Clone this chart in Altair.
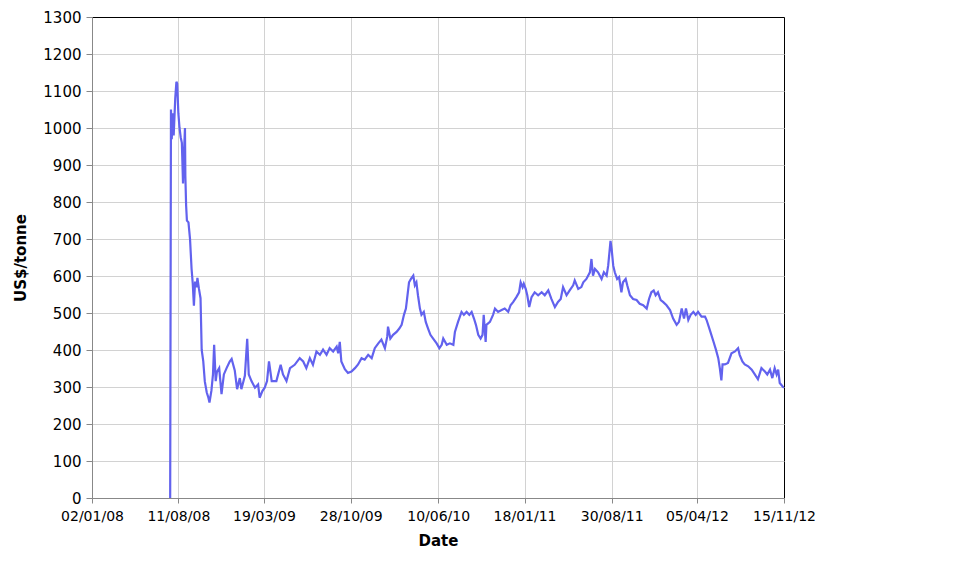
import altair as alt
import pandas as pd

dates = [
    "2008-07-21", "2008-07-23", "2008-07-25", "2008-07-28", "2008-07-30", "2008-08-03", "2008-08-06",
    "2008-08-08", "2008-08-11", "2008-08-14", "2008-08-17", "2008-08-20", "2008-08-23", "2008-08-25",
    "2008-08-28", "2008-08-29", "2008-08-31", "2008-09-02", "2008-09-06", "2008-09-10", "2008-09-14",
    "2008-09-17", "2008-09-20", "2008-09-23", "2008-09-27", "2008-09-29", "2008-10-03", "2008-10-07",
    "2008-10-10", "2008-10-14", "2008-10-18", "2008-10-23", "2008-10-27", "2008-10-30", "2008-11-04",
    "2008-11-08", "2008-11-11", "2008-11-15", "2008-11-18", "2008-11-24", "2008-11-30", "2008-12-06",
    "2008-12-13", "2008-12-21", "2008-12-26", "2009-01-03", "2009-01-09", "2009-01-16", "2009-01-20",
    "2009-01-29", "2009-02-04", "2009-02-08", "2009-02-15", "2009-02-24", "2009-03-04", "2009-03-08",
    "2009-03-15", "2009-03-21", "2009-03-27", "2009-04-01", "2009-04-08", "2009-04-20", "2009-05-01",
    "2009-05-07", "2009-05-16", "2009-05-25", "2009-06-06", "2009-06-19", "2009-06-28", "2009-07-06",
    "2009-07-15", "2009-07-23", "2009-08-01", "2009-08-10", "2009-08-18", "2009-08-27", "2009-09-04",
    "2009-09-13", "2009-09-22", "2009-09-26", "2009-09-30", "2009-10-04", "2009-10-13", "2009-10-21",
    "2009-10-30", "2009-11-08", "2009-11-16", "2009-11-25", "2009-12-03", "2009-12-12", "2009-12-21",
    "2009-12-29", "2010-01-07", "2010-01-15", "2010-01-24", "2010-01-30", "2010-02-01", "2010-02-07",
    "2010-02-14", "2010-02-23", "2010-03-02", "2010-03-08", "2010-03-14", "2010-03-19", "2010-03-22",
    "2010-03-27", "2010-04-01", "2010-04-07", "2010-04-11", "2010-04-15", "2010-04-19", "2010-04-24",
    "2010-04-28", "2010-05-04", "2010-05-09", "2010-05-15", "2010-05-21", "2010-05-28", "2010-06-06",
    "2010-06-13", "2010-06-19", "2010-06-23", "2010-07-02", "2010-07-10", "2010-07-19", "2010-07-23",
    "2010-07-31", "2010-08-09", "2010-08-15", "2010-08-22", "2010-08-29", "2010-09-04", "2010-09-10",
    "2010-09-15", "2010-09-21", "2010-09-27", "2010-10-02", "2010-10-05", "2010-10-10", "2010-10-12",
    "2010-10-21", "2010-10-29", "2010-11-03", "2010-11-11", "2010-11-20", "2010-11-28", "2010-12-07",
    "2010-12-13", "2010-12-20", "2010-12-28", "2011-01-04", "2011-01-08", "2011-01-13", "2011-01-16",
    "2011-01-21", "2011-01-25", "2011-01-30", "2011-02-05", "2011-02-13", "2011-02-22", "2011-03-03",
    "2011-03-11", "2011-03-20", "2011-03-28", "2011-04-06", "2011-04-14", "2011-04-21", "2011-04-27",
    "2011-05-06", "2011-05-14", "2011-05-23", "2011-05-27", "2011-06-05", "2011-06-13", "2011-06-18",
    "2011-06-26", "2011-07-05", "2011-07-09", "2011-07-13", "2011-07-18", "2011-07-26", "2011-08-04",
    "2011-08-10", "2011-08-17", "2011-08-21", "2011-08-27", "2011-08-30", "2011-09-03", "2011-09-07",
    "2011-09-13", "2011-09-18", "2011-09-24", "2011-09-28", "2011-10-05", "2011-10-09", "2011-10-16",
    "2011-10-24", "2011-11-02", "2011-11-10", "2011-11-19", "2011-11-28", "2011-12-04", "2011-12-10",
    "2011-12-16", "2011-12-21", "2011-12-27", "2012-01-03", "2012-01-09", "2012-01-18", "2012-01-27",
    "2012-02-04", "2012-02-13", "2012-02-19", "2012-02-26", "2012-03-03", "2012-03-08", "2012-03-14",
    "2012-03-20", "2012-03-27", "2012-04-02", "2012-04-08", "2012-04-17", "2012-04-26", "2012-04-30",
    "2012-05-08", "2012-05-17", "2012-05-24", "2012-05-30", "2012-06-03", "2012-06-07", "2012-06-10",
    "2012-06-16", "2012-06-24", "2012-07-03", "2012-07-12", "2012-07-20", "2012-07-24", "2012-07-31",
    "2012-08-06", "2012-08-15", "2012-08-24", "2012-09-01", "2012-09-09", "2012-09-18", "2012-09-27",
    "2012-10-03", "2012-10-10", "2012-10-16", "2012-10-22", "2012-10-27", "2012-10-31", "2012-11-04",
    "2012-11-11", "2012-11-15",
]

prices = [
    0, 1050, 970, 1040, 980, 1080, 1125,
    1120, 1040, 1000, 975, 960, 850, 920,
    1000, 870, 790, 750, 745, 700, 619,
    580, 520, 585, 570, 595, 565, 540,
    400, 370, 315, 285, 272, 258, 290,
    334, 414, 316, 340, 351, 281, 334,
    351, 369, 376, 345, 294, 324, 294,
    330, 430, 334, 316, 298, 307, 271,
    289, 298, 316, 369, 316, 316, 360,
    334, 316, 351, 360, 378, 369, 351,
    378, 360, 396, 387, 401, 387, 405,
    396, 409, 391, 422, 369, 348, 338,
    342, 351, 361, 378, 374, 387, 378,
    405, 418, 428, 405, 436, 463, 431,
    441, 449, 458, 468, 495, 512, 538,
    583, 592, 601, 575, 583, 548, 512,
    495, 503, 476, 458, 441, 431, 418,
    405, 414, 431, 414, 418, 414, 449,
    476, 503, 495, 503, 495, 503, 485,
    468, 441, 431, 441, 495, 422, 468,
    476, 495, 512, 503, 508, 512, 503,
    521, 530, 543, 556, 583, 570, 579,
    565, 548, 516, 543, 556, 548, 556,
    548, 561, 538, 516, 530, 538, 570,
    548, 561, 575, 588, 565, 570, 583,
    592, 610, 646, 601, 619, 610, 592,
    610, 601, 628, 695, 672, 628, 610,
    592, 597, 556, 583, 592, 575, 548,
    538, 535, 525, 521, 512, 538, 556,
    561, 548, 556, 535, 530, 521, 508,
    485, 468, 476, 512, 485, 512, 481,
    495, 503, 495, 503, 490, 490, 481,
    455, 425, 401, 378, 351, 318, 361,
    361, 365, 391, 396, 405, 387, 369,
    361, 356, 347, 334, 321, 351, 342,
    334, 347, 324, 351, 334, 347, 311,
    302, 298,
]

tick_dates = ["2008-01-02", "2008-08-11", "2009-03-19", "2009-10-28", "2010-06-10",
              "2011-01-18", "2011-08-30", "2012-04-05", "2012-11-15"]
y_ticks = list(range(0, 1301, 100))

df = pd.DataFrame({"Date": dates, "Price": prices})


def dt(s):
    y, m, d = (int(v) for v in s.split("-"))
    return alt.DateTime(year=y, month=m, date=d, utc=True)


FONT = "DejaVu Sans"
# the last gridline of each axis sits on the chart frame: draw it dark like the frame
edge_grid = alt.condition("datum.index == 1", alt.value("#000000"), alt.value("#d2d2d2"))

chart = alt.Chart(df).mark_line(color="#6262ee", strokeWidth=2.2, clip=True).encode(
    x=alt.X(
        "Date:T",
        scale=alt.Scale(type="utc", domain=[dt(tick_dates[0]), dt(tick_dates[-1])]),
        axis=alt.Axis(
            values=[dt(s) for s in tick_dates], format="%d/%m/%y", title="Date",
            labelFont=FONT, labelFontSize=14, tickSize=5, labelPadding=6,
            titleFont=FONT, titleFontSize=15, titleFontWeight="bold", titlePadding=10,
            labelOverlap=False, labelFlush=False, gridColor=edge_grid,
        ),
    ),
    y=alt.Y(
        "Price:Q",
        scale=alt.Scale(domain=[0, 1300], nice=False, zero=True),
        axis=alt.Axis(
            values=y_ticks, format="d", title="US$/tonne",
            labelFont=FONT, labelFontSize=15, tickSize=6, labelPadding=5,
            titleFont=FONT, titleFontSize=15, titleFontWeight="bold", titlePadding=14,
            gridColor=edge_grid,
        ),
    ),
).properties(
    width=692, height=481,
    autosize=alt.AutoSizeParams(type="none"),
    padding={"left": 84, "top": 9, "right": 50, "bottom": 68},
).configure_view(
    stroke="#000000", strokeWidth=1.5,
).configure_axis(
    labelColor="#222222", titleColor="#222222",
    gridWidth=2,
    domainColor="#000000", domainWidth=1.5,
    tickColor="#000000", tickWidth=1.5,
).configure(background="white")

chart.save("out.html", embed_options={"renderer": "svg", "actions": False})
